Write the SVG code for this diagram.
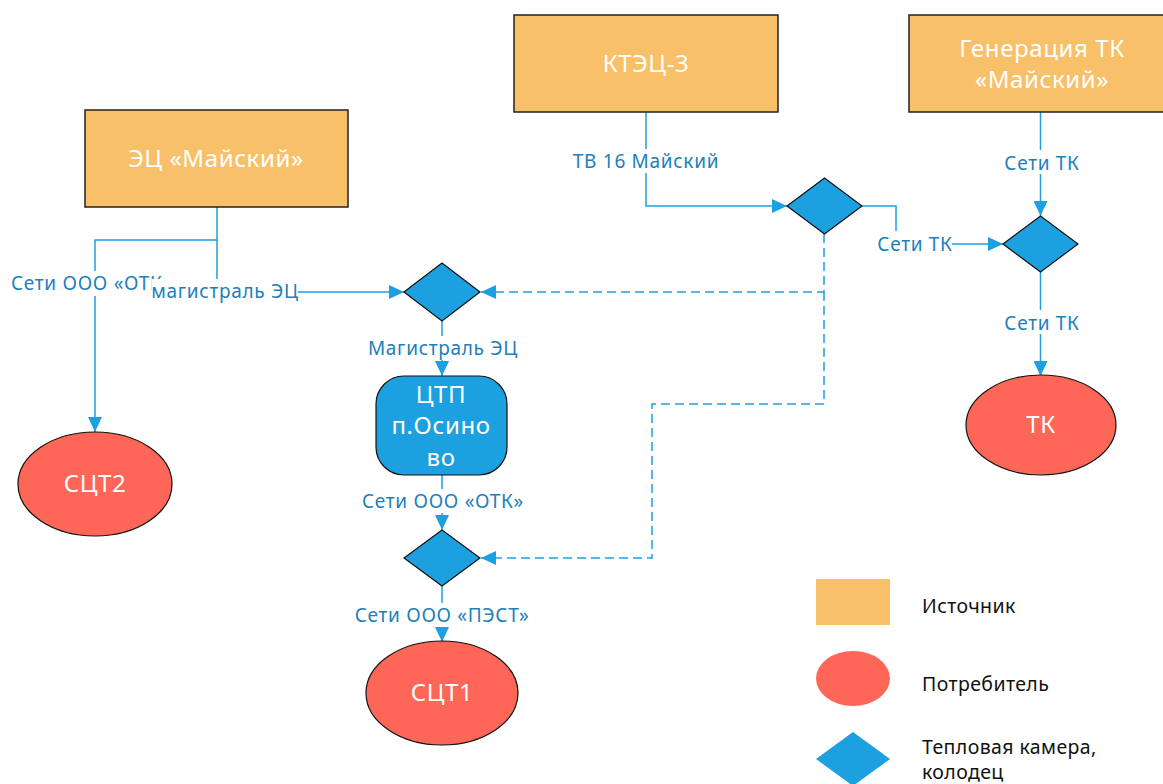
<svg xmlns="http://www.w3.org/2000/svg" width="1163" height="784" viewBox="0 0 1163 784">
<style>
.src{fill:#F9C06A;stroke:#222;stroke-width:1.5}
.cons{fill:#FE6657;stroke:#111;stroke-width:1.2}
.cam{fill:#1CA0DF;stroke:#111;stroke-width:1.2}
.ntext{font-family:"Noto Sans",sans-serif;font-size:24px;letter-spacing:0.6px;fill:#fff;text-anchor:middle}
.lbl{font-family:"Noto Sans",sans-serif;font-size:19px;letter-spacing:0.7px;fill:#2180BA;text-anchor:middle}
.leg{font-family:"Noto Sans",sans-serif;font-size:19.5px;letter-spacing:0.4px;fill:#111}
.ln{fill:none;stroke:#1CA0DF;stroke-width:1.5}
.dash{stroke-dasharray:9 5}
.bg{fill:#fff}
</style>
<defs>
<marker id="arr" markerUnits="userSpaceOnUse" markerWidth="15" markerHeight="14" viewBox="0 0 15 14" refX="15" refY="7" orient="auto">
<path d="M0,0 L15,7 L0,14 z" fill="#1CA0DF"/>
</marker>
</defs>
<rect width="1163" height="784" fill="#fff"/>

<g id="connectors">
<path class="ln" d="M217,207 V240 H95 V432" marker-end="url(#arr)"/>
<path class="ln" d="M217,240 V292 H404" marker-end="url(#arr)"/>
<path class="ln" d="M442,321 V376" marker-end="url(#arr)"/>
<path class="ln" d="M442,475 V530" marker-end="url(#arr)"/>
<path class="ln" d="M442,586 V642" marker-end="url(#arr)"/>
<path class="ln" d="M646,112 V206 H787" marker-end="url(#arr)"/>
<path class="ln" d="M862,206 H896 V244 H1003" marker-end="url(#arr)"/>
<path class="ln" d="M1040.5,112 V216" marker-end="url(#arr)"/>
<path class="ln" d="M1040.5,272 V376" marker-end="url(#arr)"/>
<path class="ln dash" d="M824,234 V292 H481" marker-end="url(#arr)"/>
<path class="ln dash" d="M824,292 V404 H652 V558 H481" marker-end="url(#arr)"/>

<rect class="bg" x="8" y="271" width="170" height="25"/>
<text class="lbl" x="92" y="290">Сети ООО «ОТК»</text>
<rect class="bg" x="152" y="279" width="146" height="26"/>
<text class="lbl" x="225" y="298">магистраль ЭЦ</text>
<rect class="bg" x="366" y="336" width="154" height="24"/>
<text class="lbl" x="443" y="355">Магистраль ЭЦ</text>
<rect class="bg" x="358" y="489" width="170" height="24"/>
<text class="lbl" x="443" y="508">Сети ООО «ОТК»</text>
<rect class="bg" x="350" y="603" width="184" height="24"/>
<text class="lbl" x="442" y="622">Сети ООО «ПЭСТ»</text>
<rect class="bg" x="568" y="149" width="156" height="24"/>
<text class="lbl" x="646" y="168">ТВ 16 Майский</text>
<rect class="bg" x="876" y="231" width="76" height="24"/>
<text class="lbl" x="915" y="251">Сети ТК</text>
<rect class="bg" x="1003" y="150" width="78" height="24"/>
<text class="lbl" x="1042" y="170">Сети ТК</text>
<rect class="bg" x="1003" y="310" width="78" height="24"/>
<text class="lbl" x="1042" y="330">Сети ТК</text>
</g>

<g id="ec-maysky">
<rect class="src" x="85" y="110" width="263" height="97"/>
<text class="ntext" x="216" y="167">ЭЦ «Майский»</text>
</g>
<g id="ktec3">
<rect class="src" x="514" y="15" width="264" height="97"/>
<text class="ntext" x="646" y="72">КТЭЦ-3</text>
</g>
<g id="gen-tk">
<rect class="src" x="909" y="15" width="267" height="97"/>
<text class="ntext" x="1042" y="57">Генерация ТК</text>
<text class="ntext" x="1042" y="88">«Майский»</text>
</g>
<g id="cam1">
<polygon class="cam" points="404,292 442,263 480,292 442,321"/>
</g>
<g id="cam2">
<polygon class="cam" points="787,206 824.5,178 862,206 824.5,234"/>
</g>
<g id="cam3">
<polygon class="cam" points="404,558 442,530 480,558 442,586"/>
</g>
<g id="cam4">
<polygon class="cam" points="1003,244 1040.5,216 1078,244 1040.5,272"/>
</g>
<g id="ctp">
<rect x="376" y="376" width="131" height="99" rx="28" ry="28" fill="#1CA0DF" stroke="#111" stroke-width="1.2"/>
<text class="ntext" x="441" y="403">ЦТП</text>
<text class="ntext" x="441" y="434">п.Осино</text>
<text class="ntext" x="441" y="466">во</text>
</g>
<g id="sct2">
<ellipse class="cons" cx="95" cy="484" rx="77" ry="52"/>
<text class="ntext" x="95" y="492">СЦТ2</text>
</g>
<g id="sct1">
<ellipse class="cons" cx="442" cy="693" rx="76" ry="52"/>
<text class="ntext" x="442" y="701">СЦТ1</text>
</g>
<g id="tk">
<ellipse class="cons" cx="1041" cy="425" rx="75" ry="50"/>
<text class="ntext" x="1041" y="433">ТК</text>
</g>

<g id="legend">
<rect x="816" y="579" width="74" height="46" fill="#F9C06A"/>
<text class="leg" x="922" y="613">Источник</text>
<ellipse cx="853" cy="678.5" rx="37" ry="27.5" fill="#FE6657"/>
<text class="leg" x="922" y="691">Потребитель</text>
<polygon points="816,759 853,732 890,759 853,786" fill="#1CA0DF"/>
<text class="leg" x="922" y="754">Тепловая камера,</text>
<text class="leg" x="922" y="779">колодец</text>
</g>
</svg>
